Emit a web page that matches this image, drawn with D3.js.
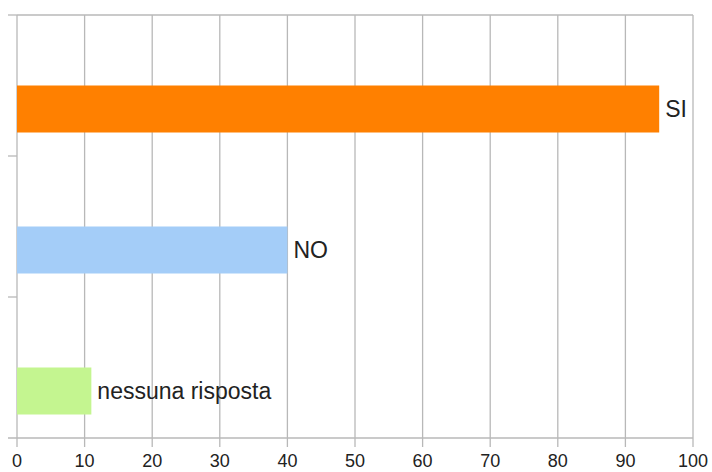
<!DOCTYPE html>
<html><head><meta charset="utf-8">
<script src="https://cdn.jsdelivr.net/npm/d3@7"></script>
<style>body{margin:0;background:#fff}svg{display:block}</style>
</head><body>
<svg id="c" width="712" height="472"></svg>
<script>
const categories = ["SI", "NO", "nessuna risposta"];
const values = [95, 40, 11];
const colors = ["#ff8000", "#a4cdf8", "#c4f590"];
const xTicks = [0,10,20,30,40,50,60,70,80,90,100];

const svg = d3.select("#c");
const m = {left:17, right:19, top:15, bottom:34};
const W = 712, H = 472;
const x = d3.scaleLinear().domain([0,100]).range([m.left, W - m.right]);
const y = d3.scaleBand().domain(categories).range([m.top, H - m.bottom]).paddingInner(1/3).paddingOuter(1/6);
const step = y.step();
const grid = "#b8b8b8";
const font = "Liberation Sans, Arial, sans-serif";

// vertical gridlines
svg.append("g").selectAll("line").data(xTicks).join("line")
  .attr("x1", d=>x(d)).attr("x2", d=>x(d))
  .attr("y1", m.top).attr("y2", H - m.bottom + 9)
  .attr("stroke", grid).attr("stroke-width", 1.3);
// top frame
svg.append("line").attr("x1", x(0)).attr("x2", x(100)).attr("y1", m.top).attr("y2", m.top)
  .attr("stroke", grid).attr("stroke-width", 1.3);
// bottom axis
svg.append("line").attr("x1", x(0) - 9).attr("x2", x(100)).attr("y1", H - m.bottom).attr("y2", H - m.bottom)
  .attr("stroke", grid).attr("stroke-width", 1.3);
// left category ticks (band boundaries)
const bounds = [m.top, m.top + step, m.top + 2*step];
svg.append("g").selectAll("line").data(bounds).join("line")
  .attr("x1", x(0) - 9).attr("x2", x(0)).attr("y1", d=>d).attr("y2", d=>d)
  .attr("stroke", grid).attr("stroke-width", 1.3);

// bars
const bw = y.bandwidth()/2;
svg.append("g").selectAll("rect").data(categories).join("rect")
  .attr("x", x(0)).attr("y", d=>y(d) + bw)
  .attr("width", (d,i)=>x(values[i]) - x(0)).attr("height", bw)
  .attr("fill", (d,i)=>colors[i]);

// value labels
svg.append("g").selectAll("text").data(categories).join("text")
  .attr("x", (d,i)=>x(values[i]) + 6).attr("y", d=>y(d) + bw*1.5)
  .attr("dy", "0.35em")
  .attr("font-family", font).attr("font-size", 23)
  .attr("fill", "#222").text(d=>d);

// x tick labels
svg.append("g").selectAll("text").data(xTicks).join("text")
  .attr("x", d=>x(d)).attr("y", 467)
  .attr("text-anchor", "middle")
  .attr("font-family", font).attr("font-size", 18)
  .attr("fill", "#222").text(d=>d);
</script>
</body></html>
